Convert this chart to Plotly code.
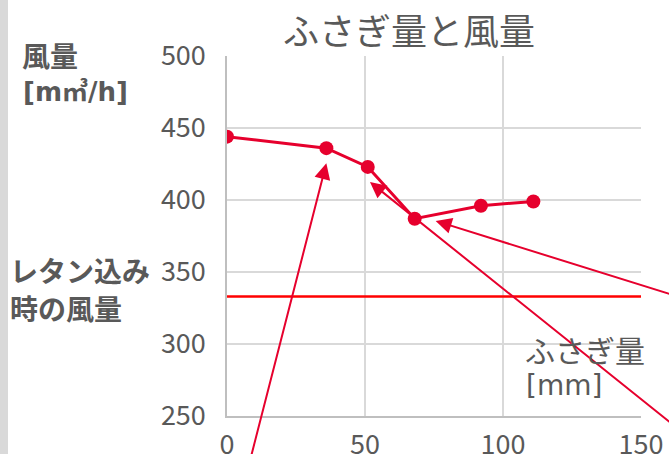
import plotly.graph_objects as go

# Data
fusagi_mm = [0, 36, 51, 68, 92, 111]
airflow = [444, 436, 423, 387, 396, 399]
reference_airflow = 333  # レタン込み時の風量
x_ticks = [0, 50, 100, 150]
y_ticks = [250, 300, 350, 400, 450, 500]

# Arrow callouts: (tip_x, tip_y, tail_x, tail_y) in data units
arrows = [
    (36.0, 425.5, 7.4, 212.0),
    (75.6, 385.5, 167.4, 330.5),
    (51.8, 412.5, 167.4, 235.0),
]

W, H = 669, 454
L, R, T, B = 227, 28, 56, 38
PW, PH = W - L - R, H - T - B

def px(xp):
    return (xp - L) / PW

def py(yp):
    return (H - B - yp) / PH

FONT = "Noto Sans CJK JP"
LATIN = "DejaVu Sans, Noto Sans CJK JP"
GRAY = "#595959"
RED = "#E6002D"

fig = go.Figure()

fig.add_trace(go.Scatter(
    x=[0, 150], y=[reference_airflow, reference_airflow], mode="lines",
    line=dict(color="#FF0000", width=2.5), hoverinfo="skip", showlegend=False,
))
fig.add_trace(go.Scatter(
    x=fusagi_mm, y=airflow, mode="lines+markers",
    line=dict(color=RED, width=3), marker=dict(color=RED, size=14),
    showlegend=False,
))

for tx, ty, ax, ay in arrows:
    fig.add_annotation(
        x=tx, y=ty, ax=ax, ay=ay, xref="x", yref="y", axref="x", ayref="y",
        text="", showarrow=True, arrowhead=2, arrowsize=1.6, arrowwidth=2,
        arrowcolor=RED,
    )

# gray strip at left
fig.add_shape(type="rect", xref="paper", yref="paper", x0=px(0), x1=px(8),
              y0=py(H), y1=py(0), fillcolor="#D9D9D9", line=dict(width=0), layer="below")

fig.add_annotation(text="ふさぎ量と風量", xref="paper", yref="paper",
                   x=px(409), y=py(29), xanchor="center", yanchor="middle",
                   showarrow=False, font=dict(family=FONT, size=36, color=GRAY))
bold = dict(family=FONT, size=28, color=GRAY, weight="bold")
fig.add_annotation(text="風量", xref="paper", yref="paper",
                   x=px(20), y=py(55), xanchor="left", yanchor="middle",
                   showarrow=False, font=bold)
fig.add_annotation(text="[m㎥/h]", xref="paper", yref="paper",
                   x=px(21), y=py(92), xanchor="left", yanchor="middle",
                   showarrow=False, font=dict(family=LATIN, size=26, color=GRAY, weight="bold"))
fig.add_annotation(text="レタン込み", xref="paper", yref="paper",
                   x=px(8), y=py(270), xanchor="left", yanchor="middle",
                   showarrow=False, font=bold)
fig.add_annotation(text="時の風量", xref="paper", yref="paper",
                   x=px(8), y=py(308), xanchor="left", yanchor="middle",
                   showarrow=False, font=bold)
fig.add_annotation(text="ふさぎ量", xref="paper", yref="paper",
                   x=px(523), y=py(349), xanchor="left", yanchor="middle",
                   showarrow=False, font=dict(family=FONT, size=30, color=GRAY))
fig.add_annotation(text="[mm]", xref="paper", yref="paper",
                   x=px(524), y=py(385), xanchor="left", yanchor="middle",
                   showarrow=False, font=dict(family=LATIN, size=28, color=GRAY))

fig.update_layout(
    width=W, height=H, margin=dict(l=L, r=R, t=T, b=B, autoexpand=False),
    paper_bgcolor="white", plot_bgcolor="white",
    font=dict(family=FONT, color=GRAY),
    xaxis=dict(range=[0, 150], tickvals=x_ticks, showgrid=True, gridcolor="#D9D9D9",
               gridwidth=1.5, zeroline=False, showline=True, linecolor="#BFBFBF", linewidth=1.5,
               mirror=False, ticks="", tickfont=dict(size=27, color=GRAY), ticklabelstandoff=4),
    yaxis=dict(range=[250, 500], tickvals=y_ticks, showgrid=True, gridcolor="#D9D9D9",
               gridwidth=1.5, zeroline=False, showline=True, linecolor="#BFBFBF", linewidth=1.5,
               mirror=False, ticks="", tickfont=dict(size=27, color=GRAY), ticklabelstandoff=14),
)

fig.write_html("out.html")
